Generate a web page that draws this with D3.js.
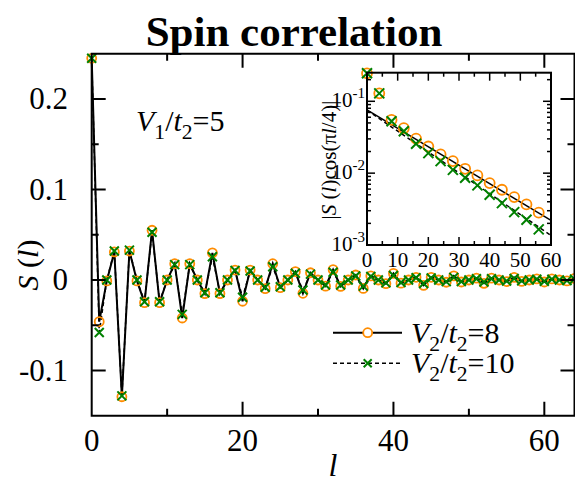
<!DOCTYPE html>
<html><head><meta charset="utf-8">
<script src="https://cdn.jsdelivr.net/npm/d3@7"></script>
<style>body{margin:0;background:#fff}svg{display:block}</style>
</head><body><div id="c"></div>
<script>
const sites = d3.range(0, 65);
const sV8 = [0.245,-0.046,-0.001,0.031,-0.129,0.032,-0.001,-0.025,0.055,-0.025,
 0.000,0.018,-0.042,0.018,0.000,-0.015,0.030,-0.015,0.000,0.011,
 -0.0235,0.011,0.000,-0.0095,0.018,-0.0085,0.000,0.0092,-0.0147,0.008,
 0.000,-0.0068,0.0115,-0.007,0.000,0.0055,-0.0093,0.0045,0.000,-0.004,
 0.0073,-0.0035,0.000,0.003,-0.0059,0.003,0.000,-0.0025,0.0046,-0.0022,
 0.000,0.002,-0.0037,0.002,0.000,-0.0017,0.0028,-0.0015,0.000,0.0013,
 -0.0022,0.0012,0.000,-0.001,0.0017];
const sV10 = [0.245,-0.058,0.000,0.032,-0.128,0.033,0.000,-0.024,0.0528,-0.024,
 0.000,0.017,-0.038,0.017,0.000,-0.014,0.0256,-0.014,0.000,0.0105,
 -0.019,0.010,0.000,-0.008,0.0147,-0.0075,0.000,0.0075,-0.0111,0.0065,
 0.000,-0.0055,0.0086,-0.0055,0.000,0.0045,-0.0068,0.0038,0.000,-0.0032,
 0.0050,-0.0028,0.000,0.0024,-0.0038,0.0022,0.000,-0.0018,0.0029,-0.0016,
 0.000,0.0014,-0.0023,0.0013,0.000,-0.0011,0.0016,-0.001,0.000,0.0009,
 -0.0013,0.0008,0.000,-0.0007,0.001];
// inset: |S(l) cos(pi l/4)| at l = 0,4,...,56
const insetL = [0,4,8,12,16,20,24,28,32,36,40,44,48,52,56];
const insetV8 = [0.245,0.129,0.055,0.0422,0.0303,0.0235,0.0182,0.0147,0.0115,0.0093,0.00727,0.00587,0.00464,0.00367,0.00282];
const insetV10 = [0.245,0.129,0.0528,0.0383,0.0256,0.019,0.0147,0.0111,0.00863,0.00675,0.00501,0.00383,0.00287,0.00225,0.00165];
// exponential fit lines (endpoints)
const fitL = [0, 60];
const fitV8 = [0.076, 0.0022];
const fitV10 = [0.075, 0.00136];
const xTicks = [0,20,40,60];
const yTicks = [-0.1,0,0.1,0.2];
const yTickLabels = ["-0.1","0","0.1","0.2"];
const insetXTicks = [0,10,20,30,40,50,60];
const insetYTicks = [0.1,0.01,0.001];
const insetYExp = ["-1","-2","-3"];

const W=575,H=484;
const ORANGE="#ff8c00", GREEN="#008000";
const FONT="'Liberation Serif','DejaVu Serif','Noto Serif',serif";
const svg=d3.select("#c").append("svg").attr("width",W).attr("height",H)
  .attr("font-family",FONT).style("font-family",FONT);

const x=d3.scaleLinear().domain([0,64]).range([91.7,574.5]);
const y=d3.scaleLinear().domain([-0.15,0.25]).range([415.75,53.75]);

function T(g){return g.append("text").attr("font-family",FONT).attr("fill","#000");}

// title
T(svg).attr("x",294).attr("y",46).attr("text-anchor","middle")
 .attr("font-size",43).attr("font-weight","bold").text("Spin correlation");

// data lines
const line=d3.line().x((d,i)=>x(sites[i])).y(d=>y(d));
svg.append("path").datum(sV10).attr("d",line).attr("fill","none").attr("stroke","#000").attr("stroke-width",1.5).attr("stroke-dasharray","4,3");
svg.append("path").datum(sV8).attr("d",line).attr("fill","none").attr("stroke","#000").attr("stroke-width",2);

function circles(g,xs,ys,xf,yf,r){
  g.selectAll(null).data(ys).enter().append("circle")
   .attr("cx",(d,i)=>xf(xs[i])).attr("cy",d=>yf(d)).attr("r",r)
   .attr("fill","none").attr("stroke",ORANGE).attr("stroke-width",1.8);
}
function crosses(g,xs,ys,xf,yf,s){
  g.selectAll(null).data(ys).enter().append("path")
   .attr("d",(d,i)=>{const cx=xf(xs[i]),cy=yf(d);return `M${cx-s},${cy-s}L${cx+s},${cy+s}M${cx-s},${cy+s}L${cx+s},${cy-s}`;})
   .attr("stroke",GREEN).attr("stroke-width",2).attr("fill","none");
}
circles(svg,sites,sV8,x,y,4.5);
crosses(svg,sites,sV10,x,y,4.5);

// frame and ticks
const fr=svg.append("g");
fr.append("rect").attr("x",x(0)).attr("y",y(0.25)).attr("width",x(64)-x(0)).attr("height",y(-0.15)-y(0.25))
 .attr("fill","none").attr("stroke","#000").attr("stroke-width",2);
d3.range(0,65,10).forEach(v=>{
  if(v===0) return;
  const L = (v%20===0)?14:7;
  fr.append("line").attr("x1",x(v)).attr("x2",x(v)).attr("y1",y(-0.15)).attr("y2",y(-0.15)-L).attr("stroke","#000").attr("stroke-width",2);
  fr.append("line").attr("x1",x(v)).attr("x2",x(v)).attr("y1",y(0.25)).attr("y2",y(0.25)+L).attr("stroke","#000").attr("stroke-width",2);
});
[-0.1,-0.05,0,0.05,0.1,0.15,0.2].forEach(v=>{
  const major=Math.abs(Math.round(v*20))%2===0;
  const L=major?14:7;
  fr.append("line").attr("x1",x(0)).attr("x2",x(0)+L).attr("y1",y(v)).attr("y2",y(v)).attr("stroke","#000").attr("stroke-width",2);
  fr.append("line").attr("x1",x(64)).attr("x2",x(64)-L).attr("y1",y(v)).attr("y2",y(v)).attr("stroke","#000").attr("stroke-width",2);
});
xTicks.forEach(v=>{
  T(svg).attr("x",x(v)).attr("y",451).attr("text-anchor","middle").attr("font-size",31).text(v);
});
yTicks.forEach((v,i)=>{
  T(svg).attr("x",68).attr("y",y(v)+10).attr("text-anchor","end").attr("font-size",31).text(yTickLabels[i]);
});
// axis labels
T(svg).attr("x",333).attr("y",476).attr("text-anchor","middle").attr("font-size",32).attr("font-style","italic").text("l");
const yl=T(svg).attr("transform","translate(38,265) rotate(-90)").attr("text-anchor","middle").attr("font-size",30);
yl.append("tspan").attr("font-style","italic").text("S");
yl.append("tspan").text(" (");
yl.append("tspan").attr("font-style","italic").text("l");
yl.append("tspan").text(")");

// annotation V1/t2=5
function ratio(g,xp,yp,sub1,tail,fs){
  const t=T(g).attr("x",xp).attr("y",yp).attr("font-size",fs);
  t.append("tspan").attr("font-style","italic").text("V");
  t.append("tspan").attr("dy",fs*0.25).attr("font-size",fs*0.72).text(sub1);
  t.append("tspan").attr("dy",-fs*0.25).text("/");
  t.append("tspan").attr("font-style","italic").text("t");
  t.append("tspan").attr("dy",fs*0.25).attr("font-size",fs*0.72).text("2");
  t.append("tspan").attr("dy",-fs*0.25).text(tail);
}
ratio(svg,136,131,"1","=5",30);

// legend
const lg=svg.append("g");
lg.append("line").attr("x1",333).attr("x2",402).attr("y1",332.7).attr("y2",332.7).attr("stroke","#000").attr("stroke-width",2);
lg.append("circle").attr("cx",367.7).attr("cy",332.7).attr("r",4.5).attr("fill","#fff").attr("stroke",ORANGE).attr("stroke-width",1.8);
lg.append("line").attr("x1",333).attr("x2",402).attr("y1",363.3).attr("y2",363.3).attr("stroke","#000").attr("stroke-width",1.5).attr("stroke-dasharray","4,3");
lg.append("path").attr("d","M363.7,359.3L371.7,367.3M363.7,367.3L371.7,359.3").attr("stroke",GREEN).attr("stroke-width",2);
ratio(lg,411,343,"2","=8",30);
ratio(lg,411,373,"2","=10",30);

// inset
const ix=d3.scaleLinear().domain([0,60]).range([367,551]);
const iy=d3.scaleLog().domain([0.001,0.25]).range([245,72.7]);
const ins=svg.append("g");
ins.append("rect").attr("x",ix(0)).attr("y",iy(0.25)).attr("width",ix(60)-ix(0)).attr("height",iy(0.001)-iy(0.25)).attr("fill","#fff");
const iline=d3.line().x((d,i)=>ix(fitL[i])).y(d=>iy(d));
ins.append("path").datum(fitV10).attr("d",iline).attr("fill","none").attr("stroke","#000").attr("stroke-width",1.5).attr("stroke-dasharray","4,3");
ins.append("path").datum(fitV8).attr("d",iline).attr("fill","none").attr("stroke","#000").attr("stroke-width",1.5);
circles(ins,insetL,insetV8,ix,iy,5);
crosses(ins,insetL,insetV10,ix,iy,5);
ins.append("rect").attr("x",ix(0)).attr("y",iy(0.25)).attr("width",ix(60)-ix(0)).attr("height",iy(0.001)-iy(0.25))
 .attr("fill","none").attr("stroke","#000").attr("stroke-width",2);
d3.range(5,60,5).forEach(v=>{
  const L=(v%10===0)?8:4;
  ins.append("line").attr("x1",ix(v)).attr("x2",ix(v)).attr("y1",iy(0.001)).attr("y2",iy(0.001)-L).attr("stroke","#000").attr("stroke-width",1.5);
  ins.append("line").attr("x1",ix(v)).attr("x2",ix(v)).attr("y1",iy(0.25)).attr("y2",iy(0.25)+L).attr("stroke","#000").attr("stroke-width",1.5);
});
[0.001,0.01,0.1].forEach(dec=>{
  for(let m=1;m<=9;m++){
    const v=dec*m; if(v>0.25) continue;
    if(m===1&&dec===0.001) continue;
    const L=m===1?8:4;
    ins.append("line").attr("x1",ix(0)).attr("x2",ix(0)+L).attr("y1",iy(v)).attr("y2",iy(v)).attr("stroke","#000").attr("stroke-width",1.5);
    ins.append("line").attr("x1",ix(60)).attr("x2",ix(60)-L).attr("y1",iy(v)).attr("y2",iy(v)).attr("stroke","#000").attr("stroke-width",1.5);
  }
});
insetXTicks.forEach(v=>{
  T(ins).attr("x",ix(v)).attr("y",267).attr("text-anchor","middle").attr("font-size",21).text(v);
});
insetYTicks.forEach((v,i)=>{
  const t=T(ins).attr("x",365).attr("y",iy(v)+6).attr("text-anchor","end").attr("font-size",21);
  t.append("tspan").text("10");
  t.append("tspan").attr("dy",-9).attr("font-size",15).text(insetYExp[i]);
});
const il=T(ins).attr("transform","translate(336,160) rotate(-90)").attr("text-anchor","middle").attr("font-size",21);
il.append("tspan").text("|");
il.append("tspan").attr("font-style","italic").text("S");
il.append("tspan").text(" (");
il.append("tspan").attr("font-style","italic").text("l");
il.append("tspan").text(")cos(π");
il.append("tspan").attr("font-style","italic").text("l");
il.append("tspan").text("/4)|");
</script></body></html>
